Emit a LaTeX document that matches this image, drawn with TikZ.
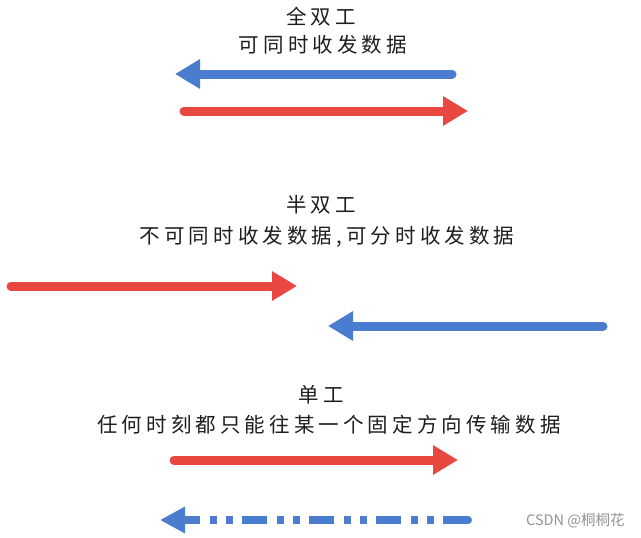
\documentclass[tikz,border=0pt]{standalone}
\usepackage{fontspec}
\usetikzlibrary{arrows.meta}
\newfontfamily\cjk[LetterSpace=20]{Noto Sans CJK SC}
\newfontfamily\wmfont{Noto Sans CJK SC}
\definecolor{arrblue}{RGB}{74,124,207}
\definecolor{arrred}{RGB}{232,72,64}
\definecolor{txtc}{RGB}{30,30,30}
\tikzset{
  lbl/.style={font=\cjk\fontsize{20.5}{24}\selectfont, text=txtc, inner sep=0pt},
  arr/.style={line width=9pt, line cap=round, -{Triangle[length=25pt,width=28pt]}},
  redarr/.style={arr, draw=arrred},
  bluearr/.style={arr, draw=arrblue},
  dasharr/.style={line width=8pt, draw=arrblue, -{Triangle[length=25pt,width=25pt]},
    dash pattern=on 25pt off 9pt on 7pt off 9pt on 7pt off 10pt},
  wm/.style={font=\wmfont\fontsize{14.5}{16}\selectfont, text=black!42, inner sep=0pt}
}
\begin{document}
\begin{tikzpicture}[x=1pt,y=-1pt]
\fill[white] (0,0) rectangle (641,538);
\useasboundingbox (0,0) rectangle (641,538);
% full duplex
\node[lbl] (t1) at (321,17) {全双工};
\node[lbl] (s1) at (323,45) {可同时收发数据};
\coordinate (b1s) at (452,74); \coordinate (b1e) at (175,74);
\coordinate (r1s) at (184,111); \coordinate (r1e) at (468,111);
\draw[bluearr] (b1s) -- (b1e);
\draw[redarr] (r1s) -- (r1e);
% half duplex
\node[lbl] (t2) at (321,205) {半双工};
\node[lbl] (s2) at (327,237) {不可同时收发数据,可分时收发数据};
\coordinate (r2s) at (11,286); \coordinate (r2e) at (297,286);
\coordinate (b2s) at (603,326); \coordinate (b2e) at (328,326);
\draw[redarr] (r2s) -- (r2e);
\draw[bluearr] (b2s) -- (b2e);
% simplex
\node[lbl] (t3) at (321,395) {单工};
\node[lbl] (s3) at (329,425) {任何时刻都只能往某一个固定方向传输数据};
\coordinate (r3s) at (174,460); \coordinate (r3e) at (458,460);
\coordinate (b3s) at (468,520); \coordinate (b3e) at (160,520);
\draw[redarr] (r3s) -- (r3e);
\draw[dasharr] (b3s) -- (b3e);
\fill[arrblue] (b3s) circle (4pt);
% watermark
\node[wm, anchor=west] (wm) at (526,521) {CSDN @桐桐花};
\end{tikzpicture}
\end{document}
